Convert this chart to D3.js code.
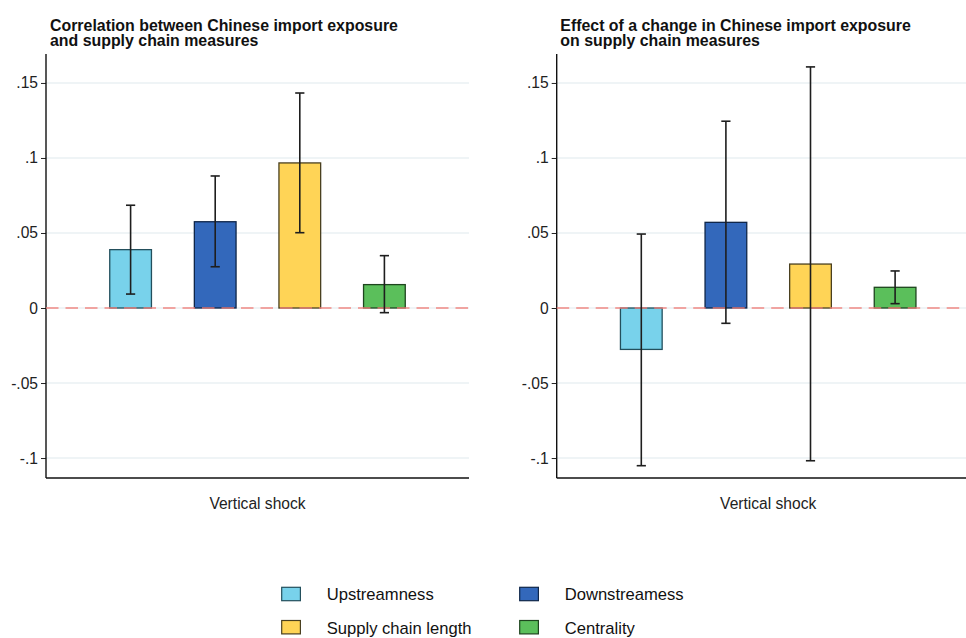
<!DOCTYPE html>
<html>
<head>
<meta charset="utf-8">
<script src="https://cdn.jsdelivr.net/npm/d3@7"></script>
<style>
  html, body { margin: 0; padding: 0; background: #fff; }
  svg { display: block; font-family: Arial, "Liberation Sans", Helvetica, sans-serif; }
</style>
</head>
<body>
<svg id="chart" width="966" height="638"></svg>
<script>
// Supply chain measures shown in each panel
const measures = ["Upstreamness", "Downstreamess", "Supply chain length", "Centrality"];
const fills = ["#78D2EB", "#3368BB", "#FFD456", "#5BBF5B"];
const strokes = ["#234F5C", "#0F2649", "#4A4020", "#1E451E"];

// Panel 1: correlations (point estimate, lower CI, upper CI)
const corrEstimate = [0.0389, 0.0575, 0.0967, 0.0156];
const corrLower    = [0.0093, 0.0275, 0.0502, -0.0031];
const corrUpper    = [0.0685, 0.0880, 0.1433, 0.0349];

// Panel 2: effects of a change in import exposure
const effEstimate = [-0.0276, 0.0571, 0.0293, 0.0138];
const effLower    = [-0.1051, -0.0102, -0.1018, 0.0029];
const effUpper    = [0.0493, 0.1245, 0.1607, 0.0247];

const yTicks = [-0.1, -0.05, 0, 0.05, 0.1, 0.15];
const yTickLabels = ["-.1", "-.05", "0", ".05", ".1", ".15"];
const yDomain = [-0.1133, 0.1693];

const panelTitles = [
  ["Correlation between Chinese import exposure", "and supply chain measures"],
  ["Effect of a change in Chinese import exposure", "on supply chain measures"]
];
const xAxisTitle = "Vertical shock";

const svg = d3.select("#chart");

const plotTop = 54, plotBottom = 478, plotWidth = 423;
const panels = [
  { x0: 46, est: corrEstimate, lo: corrLower, hi: corrUpper, title: panelTitles[0], titleX: 50 },
  { x0: 556.7, est: effEstimate, lo: effLower, hi: effUpper, title: panelTitles[1], titleX: 560.3 }
];

const y = d3.scaleLinear().domain(yDomain).range([plotBottom, plotTop]);

panels.forEach(p => {
  const g = svg.append("g").attr("transform", `translate(${p.x0},0)`);
  const x = d3.scalePoint().domain(measures).range([0, plotWidth]).padding(1);
  const bw = x.step() * 0.493;

  // title
  const t = svg.append("text")
    .attr("x", p.titleX).attr("y", 30.5)
    .attr("font-size", 15.9).attr("font-weight", "bold").attr("fill", "#111");
  p.title.forEach((line, i) => {
    t.append("tspan").attr("x", p.titleX).attr("dy", i === 0 ? 0 : 15.3).text(line);
  });

  // grid lines
  g.append("g").selectAll("line").data(yTicks).join("line")
    .attr("x1", 0).attr("x2", plotWidth)
    .attr("y1", d => y(d)).attr("y2", d => y(d))
    .attr("stroke", "#EAF0F3").attr("stroke-width", 1.5);

  // y axis
  const yAxis = d3.axisLeft(y).tickValues(yTicks)
    .tickFormat((d, i) => yTickLabels[i]).tickSize(5).tickPadding(3);
  const ya = g.append("g").call(yAxis);
  ya.select(".domain").remove();
  ya.selectAll(".tick line").attr("stroke", "#222").attr("stroke-width", 1);
  ya.selectAll(".tick text").attr("font-size", 15.6).attr("fill", "#222")
    .attr("font-family", "Arial, 'Liberation Sans', sans-serif");

  g.append("line").attr("x1", 0).attr("x2", 0)
    .attr("y1", plotTop).attr("y2", plotBottom)
    .attr("stroke", "#111").attr("stroke-width", 1.4);
  g.append("line").attr("x1", 0).attr("x2", plotWidth)
    .attr("y1", plotBottom).attr("y2", plotBottom)
    .attr("stroke", "#111").attr("stroke-width", 1.4);

  // bars
  g.append("g").selectAll("rect").data(measures).join("rect")
    .attr("x", d => x(d) - bw / 2)
    .attr("width", bw)
    .attr("y", (d, i) => y(Math.max(0, p.est[i])))
    .attr("height", (d, i) => Math.abs(y(p.est[i]) - y(0)))
    .attr("fill", (d, i) => fills[i])
    .attr("stroke", (d, i) => strokes[i])
    .attr("stroke-width", 1.3);

  // zero reference line
  g.append("line").attr("x1", 0).attr("x2", plotWidth)
    .attr("y1", y(0)).attr("y2", y(0))
    .attr("stroke", "#F27F7A").attr("stroke-width", 1.6)
    .attr("stroke-dasharray", "12.5,7").attr("opacity", 0.9);

  // confidence intervals
  const ci = g.append("g").attr("stroke", "#1E1E1E").attr("stroke-width", 1.6);
  ci.selectAll("line.v").data(measures).join("line").attr("class", "v")
    .attr("x1", d => x(d)).attr("x2", d => x(d))
    .attr("y1", (d, i) => y(p.lo[i])).attr("y2", (d, i) => y(p.hi[i]));
  ["lo", "hi"].forEach(k => {
    ci.selectAll("line." + k).data(measures).join("line").attr("class", k)
      .attr("x1", d => x(d) - 4.6).attr("x2", d => x(d) + 4.6)
      .attr("y1", (d, i) => y(p[k][i])).attr("y2", (d, i) => y(p[k][i]));
  });

  // x axis title
  g.append("text").attr("x", plotWidth / 2).attr("y", 508.5)
    .attr("text-anchor", "middle").attr("font-size", 15.6).attr("fill", "#222")
    .text(xAxisTitle);
});

// legend
const legendPos = [
  { x: 281.7, y: 587.3 }, { x: 519.7, y: 587.3 },
  { x: 281.7, y: 620.5 }, { x: 519.7, y: 620.5 }
];
const lg = svg.append("g").selectAll("g").data(measures).join("g")
  .attr("transform", (d, i) => `translate(${legendPos[i].x},${legendPos[i].y})`);
lg.append("rect").attr("width", 18.7).attr("height", 13.4)
  .attr("fill", (d, i) => fills[i]).attr("stroke", (d, i) => strokes[i]).attr("stroke-width", 1.2);
lg.append("text").attr("x", 45).attr("y", 13)
  .attr("font-size", 16.6).attr("fill", "#111").text(d => d);
</script>
</body>
</html>
